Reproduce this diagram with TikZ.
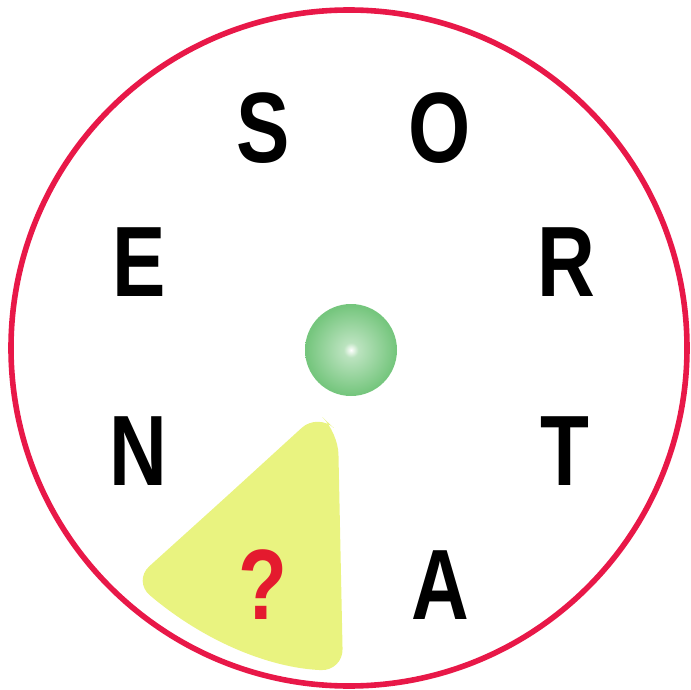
\documentclass[tikz,border=0pt]{standalone}
\usepackage{fontspec}
\newfontfamily\letterfont[FakeStretch=0.8]{Liberation Sans}
\definecolor{ringred}{RGB}{232,24,72}
\definecolor{quizred}{RGB}{228,26,46}
\definecolor{ballgreen}{RGB}{84,184,94}
\definecolor{wedgeyellow}{RGB}{233,243,128}
\pgfdeclareradialshading{greenball}{\pgfpoint{0bp}{0bp}}{color(0bp)=(white); color(4bp)=(ballgreen!40); color(24bp)=(ballgreen!80); color(50bp)=(ballgreen)}
\begin{document}
\begin{tikzpicture}[
    x=0.5pt, y=-0.5pt,
    letter/.style={inner sep=0pt, font=\letterfont\fontsize{50}{50}\selectfont\bfseries},
    ring/.style={draw=ringred, line width=2.8pt},
    wedge/.style={fill=wedgeyellow, rounded corners=11}
]
    \useasboundingbox (0,0) rectangle (691,690);

    % Outer ring
    \draw[ring] (349,348) circle [radius=338];

    % Highlighted sector
    \fill[wedge] (226,497) -- (133,581) .. controls (205,642) and (270,668) .. (343,671) -- (338,432) -- (318,413) -- cycle;

    % Centre ball
    \shade[shading=greenball] (351,350) circle [radius=46];

    % Letters
    \node[letter] (s) at (263,128) {S};
    \node[letter] (o) at (440,128) {O};
    \node[letter] (e) at (139,262) {E};
    \node[letter] (r) at (566,262) {R};
    \node[letter] (n) at (138,451) {N};
    \node[letter] (t) at (565,451) {T};
    \node[letter] (a) at (440,585) {A};
    \node[letter, text=quizred] (q) at (263,585) {?};

\end{tikzpicture}
\end{document}
